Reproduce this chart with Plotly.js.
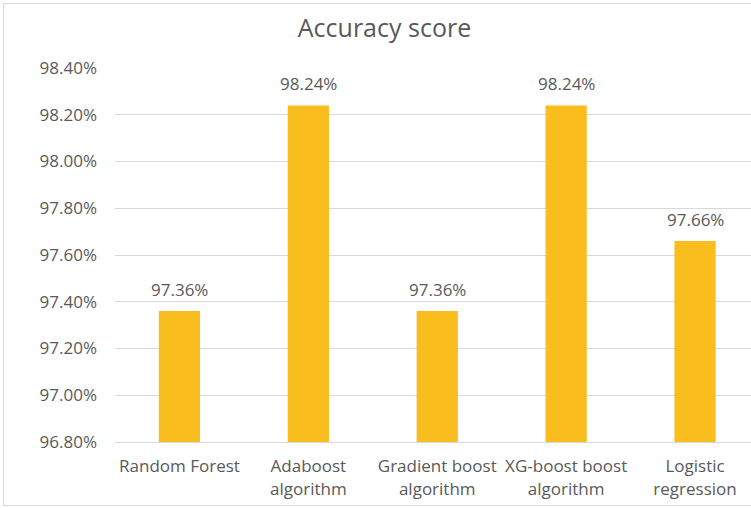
<!DOCTYPE html>
<html>
<head>
<meta charset="utf-8">
<script src="https://cdn.plot.ly/plotly-3.0.1.min.js"></script>
<style>
  html, body { margin: 0; padding: 0; background: #fff; overflow: hidden; }
  #chart { width: 751px; height: 508px; }
  #frame { position: absolute; left: 3px; top: 3px; width: 800px; height: 501px; border: 1px solid #d9d9d9; pointer-events: none; }
</style>
</head>
<body>
<div id="chart"></div>
<div id="frame"></div>
<script>
const categories = ["Random Forest", "Adaboost<br>algorithm", "Gradient boost<br>algorithm", "XG-boost boost<br>algorithm", "Logistic<br>regression"];
const accuracy = [97.36, 98.24, 97.36, 98.24, 97.66];
const yTicks = [96.8, 97.0, 97.2, 97.4, 97.6, 97.8, 98.0, 98.2, 98.4];
const titleText = "Accuracy score";

const textColor = "#595959";

const trace = {
  type: "bar",
  x: categories.map((c, i) => i),
  y: accuracy,
  marker: { color: "#F9BE1E" },
  hoverinfo: "skip"
};

const annotations = accuracy.map((v, i) => ({
  x: i, y: v, xref: "x", yref: "y",
  text: v.toFixed(2) + "%",
  showarrow: false,
  yanchor: "bottom",
  yshift: 8,
  font: { family: "Open Sans, sans-serif", size: 17, color: textColor }
}));

const layout = {
  width: 751, height: 508,
  paper_bgcolor: "#fff", plot_bgcolor: "#fff",
  margin: { l: 115, r: 0, t: 68, b: 66 },
  title: { text: titleText, x: 0.512, xanchor: "center", y: 0.945, yanchor: "middle",
           font: { family: "Open Sans, sans-serif", size: 25, color: textColor } },
  bargap: 0.68,
  showlegend: false,
  xaxis: {
    tickmode: "array",
    tickvals: categories.map((c, i) => i),
    ticktext: categories,
    range: [-0.5, 4.434],
    showgrid: false, zeroline: false,
    showline: true, linecolor: "#d9d9d9", linewidth: 1,
    ticks: "", ticklabelstandoff: 9,
    tickfont: { family: "Open Sans, sans-serif", size: 17, color: textColor }
  },
  yaxis: {
    range: [96.8, 98.4],
    tickmode: "array",
    tickvals: yTicks,
    ticktext: yTicks.map(v => v.toFixed(2) + "%"),
    showgrid: true, gridcolor: "#d9d9d9", gridwidth: 1,
    zeroline: false, showline: false,
    ticks: "", ticklabelstandoff: 17,
    tickfont: { family: "Open Sans, sans-serif", size: 17, color: textColor }
  },
  annotations: annotations
};

Plotly.newPlot("chart", [trace], layout, { displayModeBar: false, staticPlot: true });
</script>
</body>
</html>
